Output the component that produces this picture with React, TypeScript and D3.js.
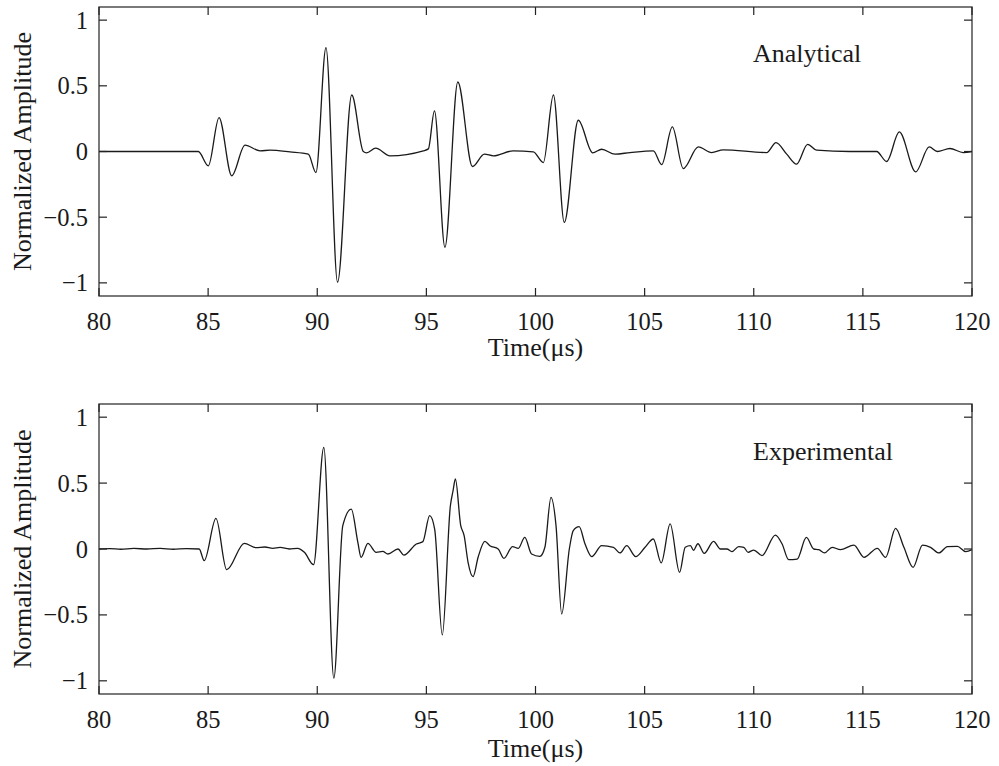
import React from "react";
import * as d3 from "d3";

// ---- data ----
const xTicks = [80, 85, 90, 95, 100, 105, 110, 115, 120];
const xTickLabels = ["80", "85", "90", "95", "100", "105", "110", "115", "120"];
const yTicks = [-1, -0.5, 0, 0.5, 1];
const yTickLabels = ["\u22121", "\u22120.5", "0", "0.5", "1"];

const analyticalT = [
  80, 84.55, 85.01, 85.5, 86.08, 86.69, 87.38, 87.84, 88.75, 89.59, 89.94, 90.4, 90.93, 91.58,
  92.11, 92.26, 92.68, 93.33, 94.86, 95.09, 95.37, 95.85, 96.44, 97.11, 97.66, 98.07, 98.98,
  99.9, 100.36, 100.82, 101.32, 101.96, 102.62, 103.03, 103.64, 104.33, 105.4, 105.78, 106.27,
  106.77, 107.46, 108.07, 108.6, 110.59, 111.02, 111.51, 111.96, 112.47, 112.88, 114.41, 115.63,
  116.09, 116.67, 117.42, 118.04, 118.41, 118.99, 119.6, 120,
];
const analyticalA = [
  0, 0, -0.109, 0.258, -0.185, 0.048, 0.005, 0.01, -0.003, -0.02, -0.16, 0.79, -0.995, 0.43,
  0, -0.01, 0.025, -0.033, 0.005, 0.02, 0.31, -0.729, 0.529, -0.114, -0.02, -0.033, 0.005,
  -0.003, -0.084, 0.43, -0.54, 0.238, -0.01, 0.017, -0.02, -0.008, 0.005, -0.1, 0.187,
  -0.13, 0.035, -0.008, 0.013, -0.008, 0.068, -0.02, -0.096, 0.055, 0.01, 0, 0,
  -0.076, 0.149, -0.155, 0.035, 0, 0.023, -0.008, 0,
];

const experimentalT = [
  80, 80.5, 81, 81.6, 82.2, 82.8, 83.4, 84.0, 84.59, 84.82, 85.36, 85.85, 86.66, 87.19, 87.6,
  87.96, 88.3, 88.72, 89.1, 89.41, 89.83, 90.3, 90.76, 91.17, 91.56, 91.86, 92.01, 92.32, 92.7,
  93.0, 93.24, 93.7, 93.97, 94.54, 94.84, 95.15, 95.38, 95.73, 96.1, 96.22, 96.33, 96.57, 96.73,
  96.91, 97.14, 97.37, 97.68, 97.91, 98.29, 98.55, 98.95, 99.21, 99.51, 99.82, 100.2, 100.43,
  100.71, 100.94, 101.2, 101.55, 101.73, 102.0, 102.27, 102.58, 103.03, 103.57, 103.87, 104.18,
  104.59, 105.02, 105.4, 105.76, 106.17, 106.6, 106.86, 107.1, 107.24, 107.44, 107.73, 108.16,
  108.47, 108.77, 109.0, 109.31, 109.54, 109.74, 110.0, 110.38, 110.99, 111.3, 111.6, 111.99,
  112.41, 112.75, 112.98, 113.24, 113.59, 113.97, 114.59, 115.05, 115.66, 116.04, 116.5, 116.88,
  117.3, 117.73, 118.1, 118.49, 118.87, 119.33, 119.71, 120,
];
const experimentalA = [
  0, 0.003, -0.002, 0.004, 0, 0.005, -0.002, 0.003, 0, -0.088, 0.232, -0.157, 0.043, 0.01, 0.015,
  0.005, 0.012, 0, 0.005, -0.025, -0.119, 0.771, -0.98, 0.177, 0.303, 0.05, -0.063, 0.043, -0.025,
  -0.018, -0.038, 0, -0.046, 0.038, 0.056, 0.253, 0.15, -0.652, 0.328, 0.44, 0.531, 0.182, 0.101,
  -0.101, -0.21, -0.063, 0.058, 0.025, 0, -0.071, 0.018, 0.005, 0.088, -0.038, -0.056, 0.013,
  0.392, 0.177, -0.493, 0, 0.139, 0.169, 0.038, -0.058, 0.025, 0.013, -0.03, 0.025,
  -0.058, 0.013, 0.076, -0.106, 0.19, -0.177, 0.013, 0.025, -0.01, 0.04, -0.033, 0.058,
  0, 0, -0.02, 0.018, 0.013, -0.025, -0.008, -0.05, 0.106, 0.038, -0.081, -0.076,
  0.088, 0, -0.005, -0.03, 0.013, -0.005, 0.03, -0.063, 0.005, -0.063, 0.157, 0.013,
  -0.139, 0.03, 0.013, -0.03, 0.018, 0.02, -0.02, -0.005,
];

const panelTitles = ["Analytical", "Experimental"];
const xLabel = "Time(\u03bcs)";
const yLabel = "Normalized Amplitude";

// ---- layout ----
const W = 999;
const H = 766;
const LEFT = 99;
const RIGHT = 972;
const FONT = "'Liberation Serif', 'Times New Roman', serif";

const panels = [
  { top: 7, bottom: 296, t: analyticalT, a: analyticalA, title: panelTitles[0], titleY: 62, xLabY: 356 },
  { top: 404, bottom: 694, t: experimentalT, a: experimentalA, title: panelTitles[1], titleY: 460, xLabY: 757 },
];

function Panel({ p }: { p: (typeof panels)[number] }) {
  const x = d3.scaleLinear().domain([80, 120]).range([LEFT, RIGHT]);
  const y = d3.scaleLinear().domain([-1.1, 1.1]).range([p.bottom, p.top]);
  const pts: [number, number][] = p.t.map((t, i) => [t, p.a[i]]);
  const line = d3
    .line<[number, number]>()
    .x((d) => x(d[0]))
    .y((d) => y(d[1]))
    .curve(d3.curveMonotoneX);
  const tl = 8;
  const midY = (p.top + p.bottom) / 2;
  return (
    <g>
      <path d={line(pts) || ""} fill="none" stroke="#1a1a1a" strokeWidth={1.3} strokeLinejoin="round" />
      <rect x={LEFT} y={p.top} width={RIGHT - LEFT} height={p.bottom - p.top} fill="none" stroke="#333" strokeWidth={1.3} />
      {xTicks.map((v, i) => (
        <g key={"x" + v}>
          <line x1={x(v)} x2={x(v)} y1={p.bottom} y2={p.bottom - tl} stroke="#222" strokeWidth={1.2} />
          <line x1={x(v)} x2={x(v)} y1={p.top} y2={p.top + tl} stroke="#222" strokeWidth={1.2} />
          <text x={x(v)} y={p.bottom + 34} textAnchor="middle" fontFamily={FONT} fontSize={24.5} fill="#1a1a1a">
            {xTickLabels[i]}
          </text>
        </g>
      ))}
      {yTicks.map((v, i) => (
        <g key={"y" + v}>
          <line x1={LEFT} x2={LEFT + tl} y1={y(v)} y2={y(v)} stroke="#222" strokeWidth={1.2} />
          <line x1={RIGHT} x2={RIGHT - tl} y1={y(v)} y2={y(v)} stroke="#222" strokeWidth={1.2} />
          <text x={88} y={y(v)} dy="0.35em" textAnchor="end" fontFamily={FONT} fontSize={24.5} fill="#1a1a1a">
            {yTickLabels[i]}
          </text>
        </g>
      ))}
      <text x={753} y={p.titleY} fontFamily={FONT} fontSize={26} fill="#1a1a1a">
        {p.title}
      </text>
      <text x={(LEFT + RIGHT) / 2} y={p.xLabY} textAnchor="middle" fontFamily={FONT} fontSize={26} fill="#1a1a1a">
        {xLabel}
      </text>
      <text
        transform={`translate(31,${midY}) rotate(-90)`}
        textAnchor="middle"
        fontFamily={FONT}
        fontSize={26}
        fill="#1a1a1a"
      >
        {yLabel}
      </text>
    </g>
  );
}

export default function App() {
  return (
    <svg
      width={W}
      height={H}
      viewBox={`0 0 ${W} ${H}`}
      style={{ position: "absolute", left: 0, top: 0, background: "#fff" }}
    >
      <rect x={0} y={0} width={W} height={H} fill="#fff" />
      {panels.map((p, i) => (
        <Panel key={i} p={p} />
      ))}
    </svg>
  );
}
